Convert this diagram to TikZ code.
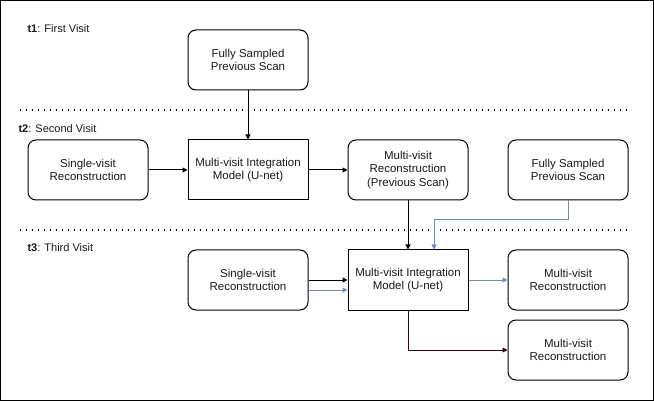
\documentclass[tikz,border=0pt]{standalone}
\usepackage{fontspec}
\setmainfont{Liberation Sans}
\usepackage{xcolor}
\usetikzlibrary{arrows.meta, positioning, shapes}

\definecolor{blueline}{HTML}{6C8EBF}
\definecolor{darkred}{HTML}{33001A}

\begin{document}
\begin{tikzpicture}[x=1pt, y=-1pt,
        every node/.style={font=\fontsize{11.5}{13.5}\selectfont, text=black!90},
        roundbox/.style={draw, line width=1pt, rounded corners=8pt, minimum width=120pt, minimum height=60pt, align=center, inner sep=2pt},
        squarebox/.style={draw, line width=1pt, minimum width=120pt, minimum height=60pt, align=center, inner sep=2pt},
        visit/.style={anchor=west, font=\fontsize{11}{13}\selectfont},
        sep/.style={line width=1.3pt, dash pattern=on 1.3pt off 4.7pt},
        arr/.style={-{Triangle[length=5pt, width=5pt]}, line width=1pt}
    ]
    % frame
    \draw[line width=1pt] (0.5,0.5) rectangle (653.5,400.5);

    % visit labels
    \node[visit] (t1) at (24,29) {\textbf{t1}: First Visit};
    \node[visit] (t2) at (15,129) {\textbf{t2}: Second Visit};
    \node[visit] (t3) at (24,248) {\textbf{t3}: Third Visit};

    % separators
    \coordinate (s1a) at (20,110);
    \coordinate (s1b) at (630,110);
    \coordinate (s2a) at (20,230);
    \coordinate (s2b) at (630,230);
    \draw[sep] (s1a) -- (s1b);
    \draw[sep] (s2a) -- (s2b);

    % first visit
    \node[roundbox] (full1) at (248,60) {Fully Sampled\\Previous Scan};

    % second visit
    \node[roundbox] (single2) at (88,170) {Single-visit\\Reconstruction};
    \node[squarebox] (unet2) at (248,170) {Multi-visit Integration\\Model (U-net)};
    \node[roundbox] (prev2) at (408,170) {Multi-visit\\Reconstruction\\(Previous Scan)};
    \node[roundbox] (full2) at (568,170) {Fully Sampled\\Previous Scan};

    % third visit
    \node[roundbox] (single3) at (248,280) {Single-visit\\Reconstruction};
    \node[squarebox] (unet3) at (408,280) {Multi-visit Integration\\Model (U-net)};
    \node[roundbox] (out3a) at (568,280) {Multi-visit\\Reconstruction};
    \node[roundbox] (out3b) at (568,350) {Multi-visit\\Reconstruction};

    % connections
    \draw[arr] (full1) -- (unet2);
    \draw[arr] (single2) -- (unet2);
    \draw[arr] (unet2) -- (prev2);
    \draw[arr] (prev2) -- (unet3);
    \draw[arr, blueline] (full2.south) |- ([xshift=26pt, yshift=30pt]unet3.north) -- ([xshift=26pt]unet3.north);
    \draw[arr] (single3) -- (unet3);
    \draw[arr, blueline] ([yshift=-10pt]single3.east) -- ([yshift=-10pt]unet3.west);
    \draw[arr, blueline] (unet3) -- (out3a);
    \draw[arr, darkred] (unet3.south) |- (out3b.west);
\end{tikzpicture}
\end{document}
